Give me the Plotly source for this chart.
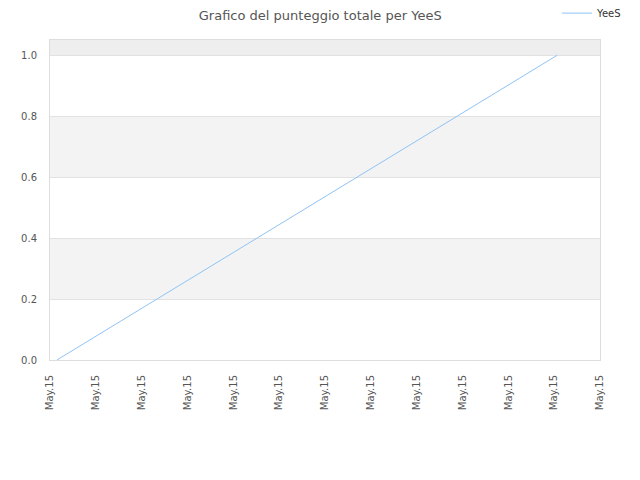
import plotly.graph_objects as go

# Dati: due rilevazioni nello stesso giorno
date = ['2015-05-15 00:09', '2015-05-15 11:04']
punteggio = [0.0, 1.0]
nome_serie = 'YeeS'

# Bande orizzontali alternate dello sfondo
bande = [(0.2, 0.4, '#f3f3f3'), (0.6, 0.8, '#f3f3f3'), (1.0, 1.05, '#eeeeee')]

fig = go.Figure()

fig.add_trace(
    go.Scatter(
        x=date,
        y=punteggio,
        mode='lines',
        name=nome_serie,
        line=dict(color='#90c3f5', width=1)
    )
)

for y0, y1, colore in bande:
    fig.add_shape(
        type='rect', xref='paper', yref='y',
        x0=0, x1=1, y0=y0, y1=y1,
        fillcolor=colore, line_width=0, layer='below'
    )

# la pagina ha un margine di 8px, quindi la figura e' 632x472
fig.update_layout(
    width=632,
    height=472,
    title=dict(
        text='Grafico del punteggio totale per YeeS',
        x=0.494, xanchor='center', y=0.984, yanchor='middle',
        font=dict(family='DejaVu Sans', size=13, color='#555555')
    ),
    font=dict(family='DejaVu Sans', size=10, color='#555555'),
    paper_bgcolor='white',
    plot_bgcolor='white',
    margin=dict(l=42, r=40, t=32, b=120, autoexpand=False),
    showlegend=True,
    legend=dict(
        x=0.922, xanchor='left', y=1.084, yanchor='middle',
        font=dict(family='DejaVu Sans', size=10, color='#333333'),
        bgcolor='rgba(0,0,0,0)'
    ),
)

fig.update_xaxes(
    type='date',
    range=['2015-05-15 00:00', '2015-05-15 12:00'],
    dtick=3600000,
    tick0='2015-05-15 00:00',
    tickformat='%b.%d',
    tickangle=-90,
    showgrid=False,
    showline=True, linecolor='#dddddd', mirror=True,
    ticks='', ticklabelstandoff=10,
    zeroline=False, automargin=False,
)
fig.update_yaxes(
    range=[0, 1.05],
    dtick=0.2,
    tickformat='.1f',
    showgrid=True, gridcolor='#e2e2e2',
    showline=True, linecolor='#dddddd', mirror=True,
    ticks='', ticklabelstandoff=10,
    zeroline=False, automargin=False,
)

fig.write_html('out.html')
